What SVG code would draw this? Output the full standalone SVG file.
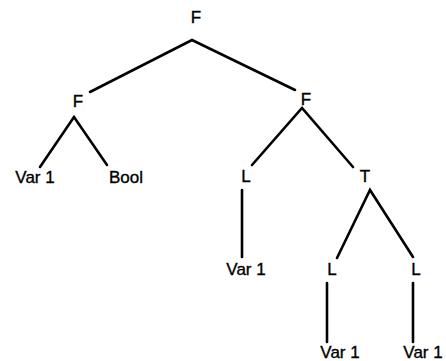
<svg xmlns="http://www.w3.org/2000/svg" width="446" height="361" viewBox="0 0 446 361">
<style>
.t{font-family:"Liberation Sans",Arial,sans-serif;font-size:17px;fill:#000;stroke:#000;stroke-width:0.35;text-anchor:middle}
.e{stroke:#000;stroke-width:2.6;fill:none;stroke-linecap:round}
</style>
<rect width="446" height="361" fill="#fff"/>
<g id="edges">
<path class="e" d="M90,92 L192,40 L295,90"/>
<path class="e" d="M40,167 L74,117 L107,165"/>
<path class="e" d="M252,165 L302,108 L353,167"/>
<path class="e" d="M242,190 L242,257"/>
<path class="e" d="M337,258 L370,190 L413,257"/>
<path class="e" d="M327,283 L327,342"/>
<path class="e" d="M413,283 L413,342"/>
</g>
<g id="root"><text class="t" x="196" y="23">F</text></g>
<g id="f1"><text class="t" x="78" y="107">F</text></g>
<g id="var1a"><text class="t" x="35" y="183">Var 1</text></g>
<g id="bool"><text class="t" x="126" y="183">Bool</text></g>
<g id="f2"><text class="t" x="306" y="105">F</text></g>
<g id="l1"><text class="t" x="246" y="182">L</text></g>
<g id="t1"><text class="t" x="365" y="182">T</text></g>
<g id="var1b"><text class="t" x="246" y="275">Var 1</text></g>
<g id="l2"><text class="t" x="332" y="275">L</text></g>
<g id="l3"><text class="t" x="416" y="275">L</text></g>
<g id="var1c"><text class="t" x="340" y="358">Var 1</text></g>
<g id="var1d"><text class="t" x="423" y="358">Var 1</text></g>
</svg>
